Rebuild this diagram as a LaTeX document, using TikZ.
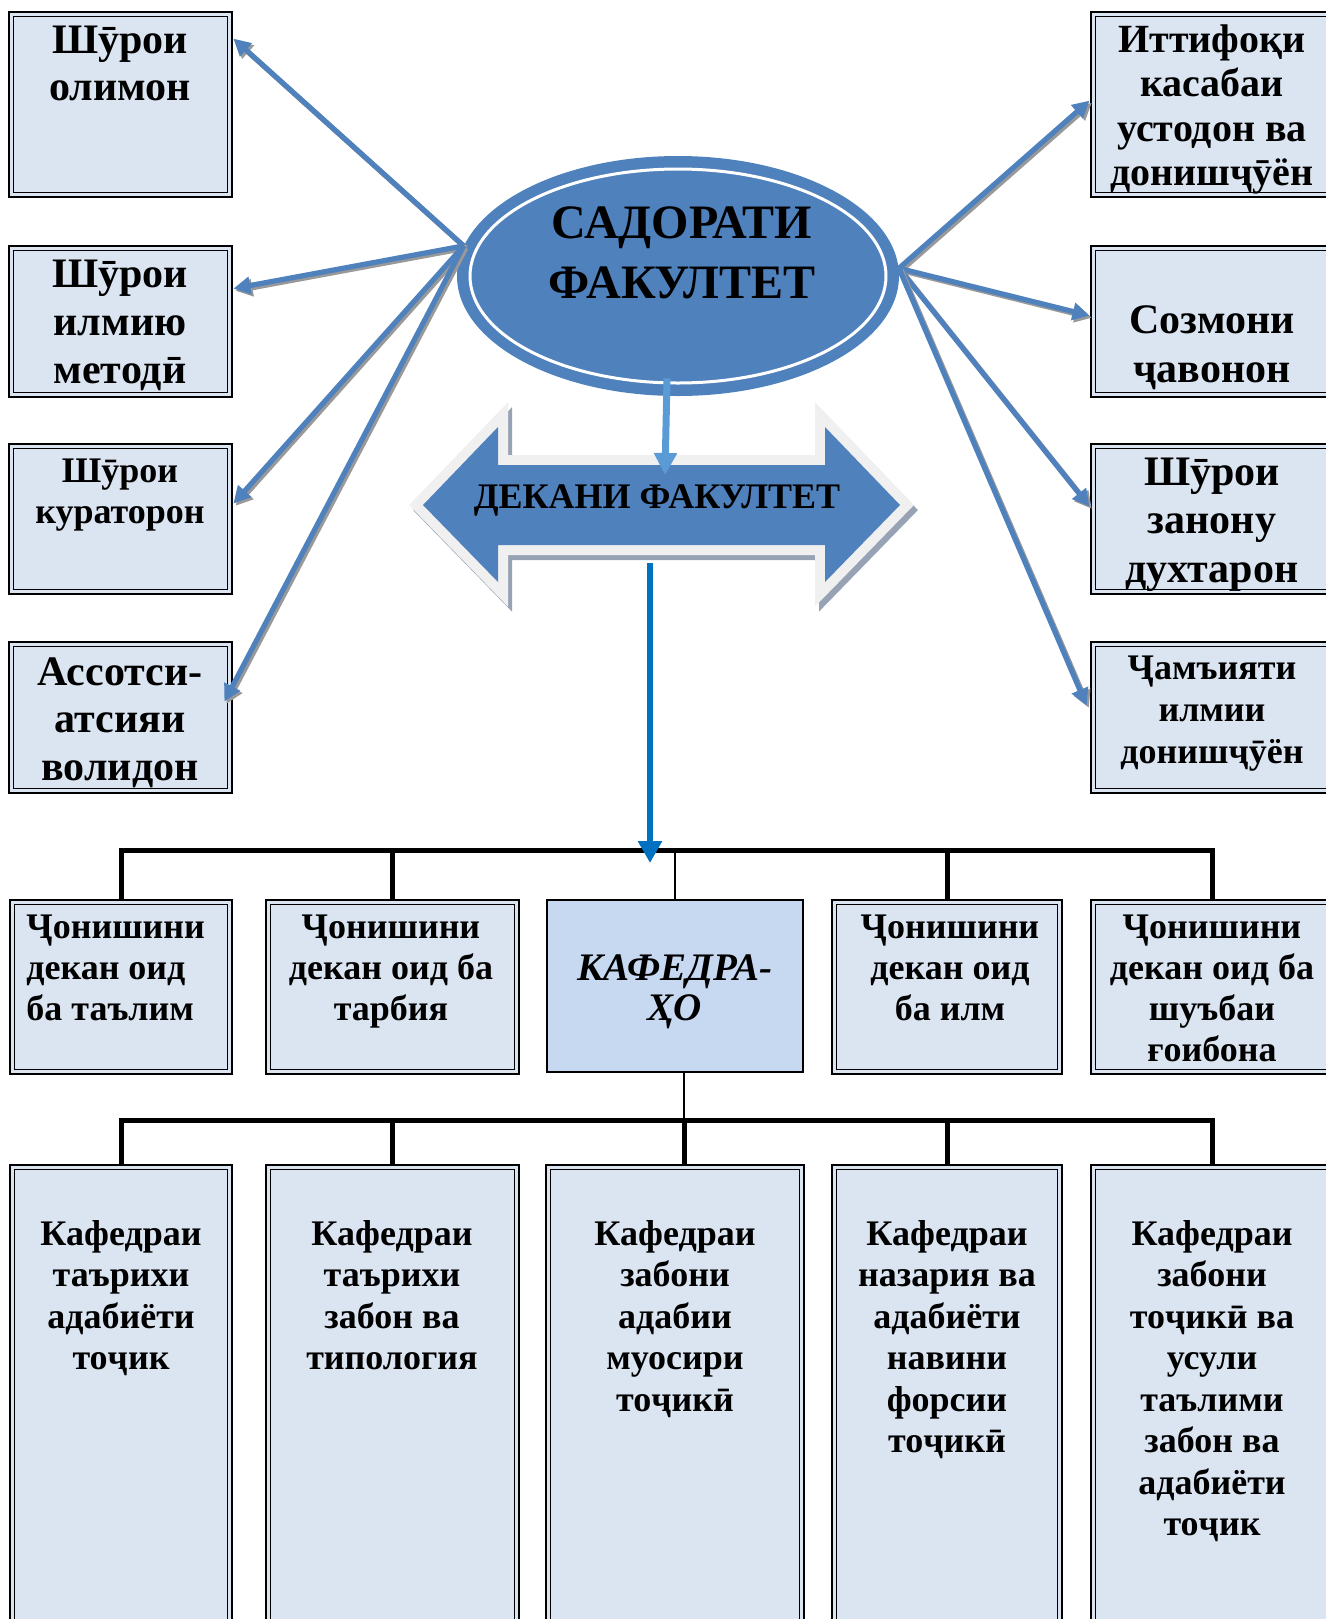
\documentclass[tikz,border=0pt]{standalone}
\usepackage{fontspec}
\setmainfont{Liberation Serif}
\usetikzlibrary{shapes.geometric,arrows.meta,fit,calc}
\definecolor{boxfill}{HTML}{DBE5F1}
\definecolor{kfill}{HTML}{C6D9F1}
\definecolor{ellblue}{HTML}{4F81BD}
\definecolor{arrblue}{HTML}{4F81BD}
\definecolor{dkblue}{HTML}{0070C0}
\definecolor{ltblue}{HTML}{5B9BD5}
\definecolor{dborder}{HTML}{F0F0F0}
\definecolor{dshadow}{HTML}{97A3B5}
\newcommand\mlines[4]{{\fontsize{#1}{#2}\selectfont\bfseries\begin{tabular}[t]{@{}#3@{}}#4\end{tabular}}}
\newcommand\conn[2]{\draw[connsh] #1 -- #2; \draw[conn] #1 -- #2;}
\newcommand\dpoly{(423,505) -- (498,427) -- (498,465) -- (825,465) -- (825,427) -- (900,505) -- (825,582) -- (825,545) -- (498,545) -- (498,582) -- cycle}
\begin{document}
\begin{tikzpicture}[x=0.5pt,y=-0.5pt,
  box/.style={draw, line width=1.4pt, fill=boxfill, inner sep=0pt,
    path picture={\draw[line width=0.5pt] ([shift={(2.4pt,-2.4pt)}]path picture bounding box.north west) rectangle ([shift={(-2.4pt,2.4pt)}]path picture bounding box.south east);}},
  kbox/.style={draw, line width=1pt, fill=kfill, inner sep=0pt},
  txt/.style={anchor=base, inner sep=0pt},
  conn/.style={-{Triangle[length=8.5pt,width=8.5pt]}, line width=2.6pt, draw=arrblue},
  connsh/.style={-{Triangle[length=8.5pt,width=8.5pt]}, line width=2.6pt, draw=black!40, transform canvas={shift={(1.1pt,-1.1pt)}}},
  org/.style={line width=2.5pt, draw=black},
  thinline/.style={line width=0.6pt, draw=black}]
\useasboundingbox (0,0) rectangle (1326,1619);

% left boxes
\node[box, fit={(9,12) (232,197)}] (L1) {};
\node[box, fit={(9,246) (232,397)}] (L2) {};
\node[box, fit={(9,444) (232,594)}] (L3) {};
\node[box, fit={(9,642) (232,793)}] (L4) {};
% right boxes
\node[box, fit={(1091,12) (1334,197)}] (R1) {};
\node[box, fit={(1091,246) (1334,397)}] (R2) {};
\node[box, fit={(1091,444) (1334,594)}] (R3) {};
\node[box, fit={(1091,642) (1334,793)}] (R4) {};

\node[txt] (L1t) at (120,53) {\mlines{21pt}{23.5pt}{c}{Шӯрои\\олимон}};
\node[txt] (L2t) at (120,287) {\mlines{21pt}{24pt}{c}{Шӯрои\\илмию\\методӣ}};
\node[txt] (L3t) at (120,482) {\mlines{18pt}{20.5pt}{c}{Шӯрои\\кураторон}};
\node[txt] (L4t) at (120,685) {\mlines{21pt}{23.75pt}{c}{Ассотси-\\атсияи\\волидон}};
\node[txt] (R1t) at (1212,52) {\mlines{20pt}{22.25pt}{c}{Иттифоқи\\касабаи\\устодон ва\\донишҷӯён}};
\node[txt] (R2t) at (1212,333) {\mlines{21pt}{24.5pt}{c}{Созмони\\ҷавонон}};
\node[txt] (R3t) at (1212,485) {\mlines{21pt}{24.25pt}{c}{Шӯрои\\занону\\духтарон}};
\node[txt] (R4t) at (1212,679) {\mlines{18pt}{21pt}{c}{Ҷамъияти\\илмии\\донишҷӯён}};

% ellipse
\node[ellipse, fill=ellblue, minimum width=221pt, minimum height=120pt, inner sep=0pt] (E) at (678,276) {};
\draw[white, line width=1.5pt] (E.center) ellipse [x radius=208, y radius=107];
\node[txt] (Et) at (682,238) {\mlines{24pt}{30pt}{c}{САДОРАТИ\\ФАКУЛТЕТ}};

% double arrow (dean)
\coordinate (D) at (661,505);
\draw[dshadow, line width=10pt, line join=miter, shift={(4,5)}] \dpoly;
\draw[dborder, line width=10pt, line join=miter] \dpoly;
\fill[ellblue] \dpoly;
\node[txt] (Dt) at (657,508) {\mlines{18pt}{20pt}{c}{ДЕКАНИ ФАКУЛТЕТ}};

% connectors from ellipse
\conn{(E.172)}{([yshift=-14pt]L1.north east)}
\conn{(E.172)}{([yshift=-22pt]L2.north east)}
\conn{(E.172)}{([yshift=-30.5pt]L3.north east)}
\conn{(E.172)}{([xshift=-4.5pt,yshift=-30.5pt]L4.north east)}
\conn{(E.2)}{([yshift=-45pt]R1.north west)}
\conn{(E.2)}{([yshift=-35.5pt]R2.north west)}
\conn{(E.2)}{([yshift=-32pt]R3.north west)}
\conn{(E.2)}{([xshift=-1.5pt,yshift=-32.5pt]R4.north west)}

\draw[ltblue, line width=3.5pt, -{Triangle[length=11pt,width=11pt]}] ([shift={(-11,-18)}]E.south) -- ([shift={(4,-30)}]D);

% second row
\coordinate (bar1) at (0,850);
\coordinate (bar2) at (0,1120);
\node[box, fit={(10,900) (232,1074)}] (B1) {};
\node[box, fit={(266,900) (519,1074)}] (B2) {};
\node[kbox, fit={(547,900) (803,1072)}] (K) {};
\node[box, fit={(832,900) (1062,1074)}] (B4) {};
\node[box, fit={(1091,900) (1334,1074)}] (B5) {};

\node[txt, anchor=base west] (B1t) at (26,938) {\mlines{18pt}{20.5pt}{l}{Ҷонишини\\декан оид\\ба таълим}};
\node[txt] (B2t) at (391,938) {\mlines{18pt}{20.5pt}{c}{Ҷонишини\\декан оид ба\\тарбия}};
\node[txt] (Kt) at (675,980) {{\itshape\mlines{19.5pt}{20pt}{c}{КАФЕДРА-\\ҲО}}};
\node[txt] (B4t) at (950,938) {\mlines{18pt}{20.5pt}{c}{Ҷонишини\\декан оид\\ба илм}};
\node[txt] (B5t) at (1212,938) {\mlines{18pt}{20.5pt}{c}{Ҷонишини\\декан оид ба\\шуъбаи\\ғоибона}};

% third row
\node[box, fit={(10,1165) (232,1640)}] (C1) {};
\node[box, fit={(266,1165) (519,1640)}] (C2) {};
\node[box, fit={(546,1165) (804,1640)}] (C3) {};
\node[box, fit={(832,1165) (1062,1640)}] (C4) {};
\node[box, fit={(1091,1165) (1334,1640)}] (C5) {};

\node[txt] (C1t) at (121,1245) {\mlines{18pt}{20.75pt}{c}{Кафедраи\\таърихи\\адабиёти\\тоҷик}};
\node[txt] (C2t) at (392,1245) {\mlines{18pt}{20.75pt}{c}{Кафедраи\\таърихи\\забон ва\\типология}};
\node[txt] (C3t) at (675,1245) {\mlines{18pt}{20.75pt}{c}{Кафедраи\\забони\\адабии\\муосири\\тоҷикӣ}};
\node[txt] (C4t) at (947,1245) {\mlines{18pt}{20.75pt}{c}{Кафедраи\\назария ва\\адабиёти\\навини\\форсии\\тоҷикӣ}};
\node[txt] (C5t) at (1212,1245) {\mlines{18pt}{20.75pt}{c}{Кафедраи\\забони\\тоҷикӣ ва\\усули\\таълими\\забон ва\\адабиёти\\тоҷик}};

% org lines
\draw[org, line join=miter] (B1.north) |- (bar1 -| B5.north) -- (B5.north);
\draw[org] (B2.north) -- (B2.north |- bar1);
\draw[org] (B4.north) -- (B4.north |- bar1);
\draw[thinline] (K.north) -- (K.north |- bar1);
\coordinate (kd) at ([xshift=4.5pt]K.south);
\coordinate (c3u) at ([xshift=4.5pt]C3.north);
\draw[thinline] (kd) -- (kd |- bar2);
\draw[org, line join=miter] (C1.north) |- (bar2 -| C5.north) -- (C5.north);
\draw[org] (C2.north) -- (C2.north |- bar2);
\draw[org] (c3u) -- (c3u |- bar2);
\draw[org] (C4.north) -- (C4.north |- bar2);

% dean -> departments arrow
\draw[dkblue, line width=3pt, -{Triangle[length=11pt,width=11.5pt]}] ([shift={(-11,58)}]D) -- ($(D |- bar1)+(-11,13)$);
\end{tikzpicture}
\end{document}
